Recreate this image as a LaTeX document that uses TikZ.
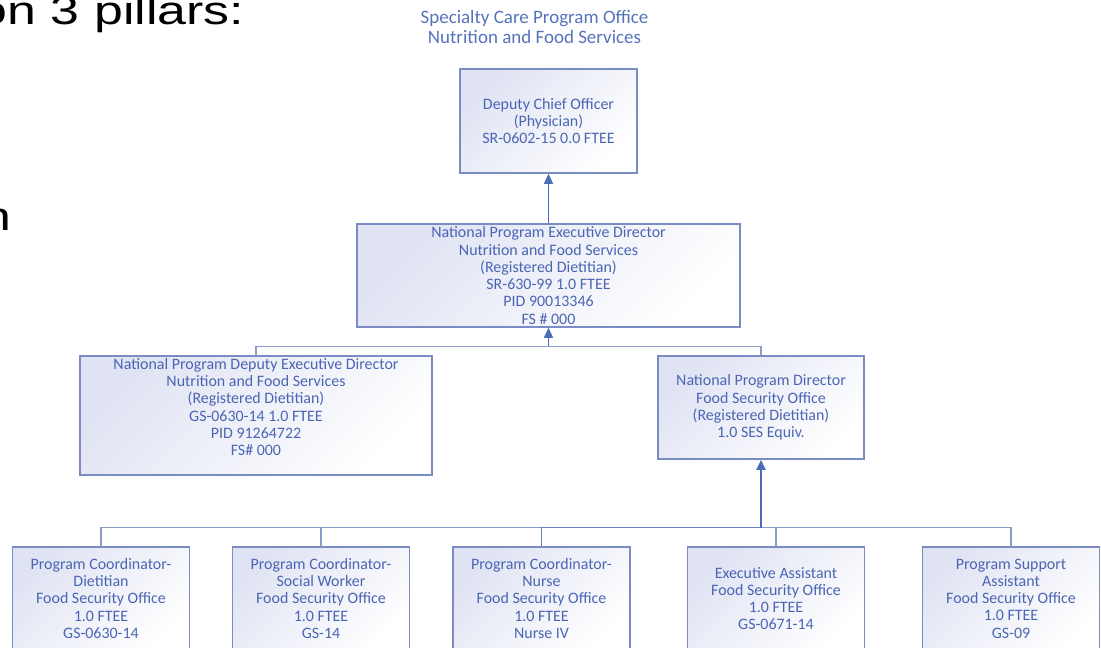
\documentclass[tikz,border=0pt]{standalone}
\usepackage{fontspec}
\setmainfont{Carlito}
\newfontfamily\slidefont{Liberation Sans}
\usepackage{tikz}
\usetikzlibrary{arrows.meta, calc}
\definecolor{vatext}{HTML}{4A65B3}
\definecolor{vatitle}{HTML}{5672BC}
\definecolor{vaedge}{HTML}{7B8CC4}
\definecolor{valine}{HTML}{8E9BC8}
\definecolor{vamid}{HTML}{6A80C0}
\definecolor{vaarrow}{HTML}{4A6DB8}
\definecolor{vatint}{HTML}{E0E3F3}

\begin{document}
\begin{tikzpicture}[
    post/.style={draw=vaedge, line width=0.85pt, top color=vatint, bottom color=white,
                 shading angle=45, minimum width=#1, minimum height=2.06cm,
                 inner sep=1pt, align=center, text=vatext,
                 font=\fontsize{9.07}{9.8}\selectfont},
    link/.style={draw=valine, line width=0.74pt},
    upline/.style={-{Triangle[length=5.7pt, width=5.1pt]}, draw=vaarrow, line width=#1},
    slide/.style={font=\slidefont\fontsize{22.7}{27}\selectfont, anchor=base east, inner sep=0pt},
]
    \useasboundingbox (0,0) rectangle (22.02,-12.96);

    % slide text cut off at the edge
    \node[slide] (pillars) at (4.89,-0.5) {\scalebox{1.3}[1]{on 3 pillars:}};
    \node[slide] (cutword) at (0.23,-4.6) {\scalebox{1.3}[1]{n}};

    % === office ===
    \node[font=\fontsize{10.8}{11.3}\selectfont, text=vatitle, align=center] (office) at (10.69,-0.54)
        {Specialty Care Program Office\\Nutrition and Food Services};

    \node[post=3.54cm, minimum height=2.08cm] (dco) at (10.97,-2.42)
        {Deputy Chief Officer\\(Physician)\\SR-0602-15 0.0 FTEE};
    \node[post=7.66cm] (ned) at (10.97,-5.51)
        {National Program Executive Director\\Nutrition and Food Services\\(Registered Dietitian)\\SR-630-99 1.0 FTEE\\PID 90013346\\FS \# 000};

    % === second row ===
    \node[post=7.04cm, minimum height=2.38cm] (dep) at (5.12,-8.31)
        {National Program Deputy Executive Director\\Nutrition and Food Services\\(Registered Dietitian)\\GS-0630-14 1.0 FTEE\\PID 91264722\\FS\# 000\\ {}};
    \node[post=4.12cm] (npd) at (15.22,-8.15)
        {National Program Director\\Food Security Office\\(Registered Dietitian)\\1.0 SES Equiv.};

    % === food security office ===
    \node[post=3.54cm] (pc1) at (2.02,-11.97)
        {Program Coordinator-\\Dietitian\\Food Security Office\\1.0 FTEE\\GS-0630-14};
    \node[post=3.54cm] (pc2) at (6.42,-11.97)
        {Program Coordinator-\\Social Worker\\Food Security Office\\1.0 FTEE\\GS-14};
    \node[post=3.54cm] (pc3) at (10.83,-11.97)
        {Program Coordinator-\\Nurse\\Food Security Office\\1.0 FTEE\\Nurse IV};
    \node[post=3.54cm] (ea) at (15.52,-11.97)
        {Executive Assistant\\Food Security Office\\1.0 FTEE\\GS-0671-14};
    \node[post=3.54cm] (psa) at (20.22,-11.97)
        {Program Support\\Assistant\\Food Security Office\\1.0 FTEE\\GS-09};

    % connectors
    \coordinate (midbar) at ($(ned.south)+(0,-0.37)$);
    \coordinate (lowbar) at ($(npd.south)+(0,-1.36)$);

    \draw[upline=0.74pt] (ned.north) -- (dco.south);
    \draw[link] (dep.north) |- (midbar) -| (npd.north);
    \draw[upline=0.74pt] (midbar) -- (ned.south);

    \draw[link] (pc1.north) |- (lowbar) -| (psa.north);
    \draw[link] (pc2.north) -- (pc2.north |- lowbar);
    \draw[link] (ea.north) -- (ea.north |- lowbar);
    \draw[link, draw=vamid] (pc3.north) |- (lowbar);
    \draw[upline=1.3pt] (lowbar) -- (npd.south);
\end{tikzpicture}
\end{document}
